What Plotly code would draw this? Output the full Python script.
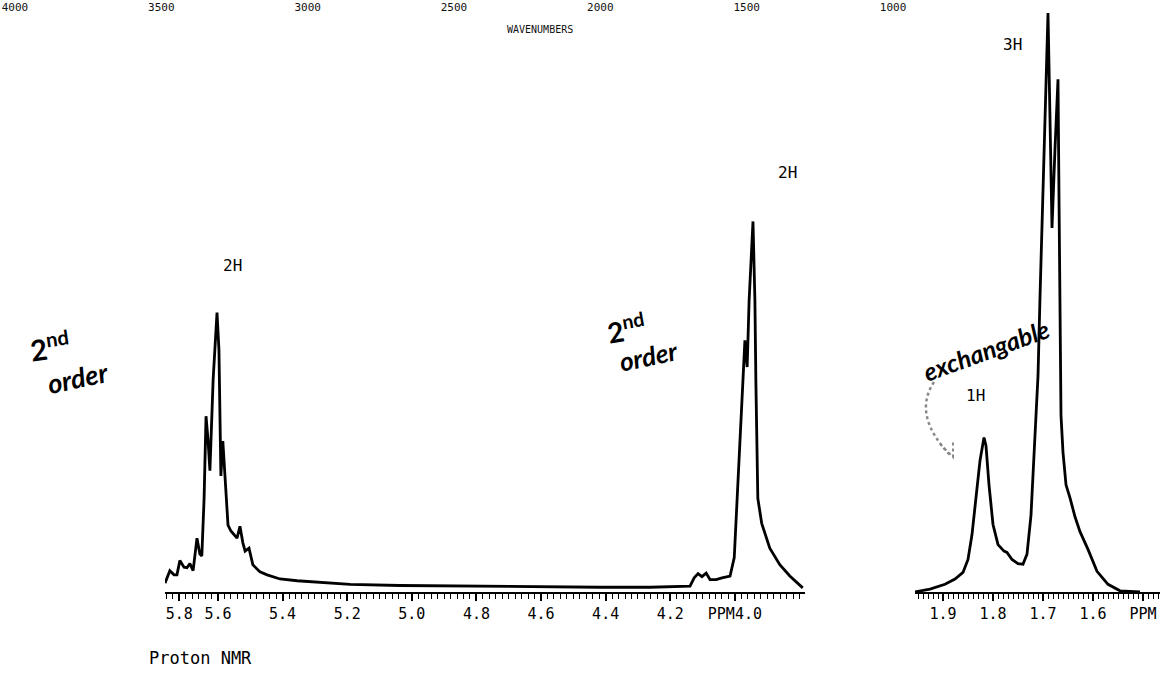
import plotly.graph_objects as go

# ---------------- data ----------------
# Left panel: 5.8 - 3.8 ppm region
left_ppm = [5.764, 5.749, 5.736, 5.727, 5.718, 5.705, 5.696, 5.687, 5.677, 5.665,
            5.656, 5.650, 5.643, 5.637, 5.631, 5.625, 5.615, 5.603, 5.597, 5.591,
            5.585, 5.575, 5.569, 5.560, 5.541, 5.532, 5.523, 5.516, 5.504, 5.492,
            5.470, 5.448, 5.408, 5.355, 5.284, 5.191, 5.037, 4.882, 4.727, 4.572,
            4.417, 4.263, 4.139, 4.126, 4.114, 4.102, 4.089, 4.077, 4.058, 4.040,
            4.015, 4.002, 3.993, 3.984, 3.975, 3.969, 3.962, 3.956, 3.944, 3.938,
            3.935, 3.932, 3.929, 3.917, 3.892, 3.861, 3.830, 3.790]
left_int = [1.5, 3.6, 2.9, 2.9, 5.3, 4.2, 4.1, 4.8, 3.6, 9.1,
            6.4, 6.1, 15.8, 29.7, 25.8, 20.5, 35.9, 47.2, 40.9, 19.6,
            25.5, 17.5, 11.3, 10.3, 9.1, 11.1, 8.3, 6.9, 7.4, 4.6,
            3.4, 2.9, 2.2, 1.9, 1.6, 1.3, 1.1, 1.0, 0.9, 0.8,
            0.8, 0.8, 1.0, 2.4, 3.1, 2.6, 3.2, 2.1, 2.1, 2.4,
            2.7, 5.8, 15.8, 24.1, 34.2, 42.5, 38.0, 49.2, 62.6, 49.2,
            35.4, 24.1, 15.8, 11.6, 7.4, 4.6, 2.7, 0.7]

# Right panel: 1.95 - 1.47 ppm region
right_ppm = [1.956, 1.926, 1.896, 1.876, 1.860, 1.850, 1.842, 1.834, 1.826, 1.818,
             1.814, 1.808, 1.800, 1.790, 1.778, 1.772, 1.762, 1.750, 1.740, 1.732,
             1.724, 1.718, 1.710, 1.706, 1.700, 1.694, 1.690, 1.686, 1.682, 1.676,
             1.670, 1.668, 1.666, 1.664, 1.660, 1.654, 1.646, 1.636, 1.626, 1.610,
             1.592, 1.570, 1.546, 1.506]
right_int = [0.0, 0.5, 1.3, 2.2, 3.3, 5.5, 9.7, 16.4, 22.2, 26.1,
             24.7, 18.1, 11.4, 8.0, 6.9, 6.7, 5.5, 4.8, 4.7, 6.4,
             13.0, 23.1, 36.5, 49.8, 66.6, 86.6, 97.8, 79.9, 61.5, 74.9,
             86.6, 66.6, 44.8, 29.8, 23.6, 18.1, 15.9, 12.7, 10.2, 7.2,
             3.5, 1.3, 0.2, 0.0]

left_tick_vals = [5.72, 5.6, 5.4, 5.2, 5.0, 4.8, 4.6, 4.4, 4.2, 4.0]
left_tick_text = ["5.8", "5.6", "5.4", "5.2", "5.0", "4.8", "4.6", "4.4", "4.2", "PPM4.0"]
right_tick_vals = [1.9, 1.8, 1.7, 1.6, 1.5]
right_tick_text = ["1.9", "1.8", "1.7", "1.6", "PPM"]
wavenumber_ticks = [4000, 3500, 3000, 2500, 2000, 1500, 1000]

W, H = 1160, 677
def px(x):
    return x / W
def py(y):
    return 1 - y / H

MONO = "DejaVu Sans Mono"
HAND = "Lato"

fig = go.Figure()
line_style = dict(color="black", width=2.8)
fig.add_trace(go.Scatter(x=left_ppm, y=left_int, xaxis="x", yaxis="y",
                         mode="lines", line=line_style, hoverinfo="skip"))
fig.add_trace(go.Scatter(x=right_ppm, y=right_int, xaxis="x2", yaxis="y2",
                         mode="lines", line=line_style, hoverinfo="skip"))
# invisible trace so the top wavenumber scale is drawn
fig.add_trace(go.Scatter(x=[wavenumber_ticks[0], wavenumber_ticks[-1]], y=[0, 0],
                         xaxis="x3", yaxis="y3", mode="markers",
                         marker=dict(opacity=0), hoverinfo="skip"))

ydom = [(H - 592) / H, 1.0]
ruler = dict(showline=True, linecolor="black", linewidth=2, showgrid=False, zeroline=False,
             ticks="outside", ticklen=7, tickwidth=2, tickcolor="black",
             tickmode="array", automargin=False,
             tickfont=dict(family=MONO, size=15, color="black"))

fig.update_layout(
    width=W, height=H,
    margin=dict(l=0, r=0, t=0, b=0, autoexpand=False),
    paper_bgcolor="white", plot_bgcolor="rgba(0,0,0,0)",
    showlegend=False,
    xaxis=dict(domain=[px(165), px(805)], range=[5.764, 3.783], anchor="y",
               tickvals=left_tick_vals, ticktext=left_tick_text,
               minor=dict(tickmode="linear", tick0=4.0, dtick=0.02, ticks="outside",
                          ticklen=5, tickwidth=1.3, tickcolor="black"),
               **ruler),
    yaxis=dict(domain=ydom, range=[0, 100], visible=False, anchor="x"),
    xaxis2=dict(domain=[px(915), 1.0], range=[1.956, 1.466], anchor="y2",
                tickvals=right_tick_vals, ticktext=right_tick_text,
                minor=dict(tickmode="linear", tick0=1.5, dtick=0.01, ticks="outside",
                           ticklen=5, tickwidth=1.3, tickcolor="black"),
                **ruler),
    yaxis2=dict(domain=ydom, range=[0, 100], visible=False, anchor="x2"),
    xaxis3=dict(domain=[0, 1], range=[4051, 88], anchor="y3", side="top",
                tickmode="array", tickvals=wavenumber_ticks, automargin=False,
                ticklabelposition="inside", showline=False, showgrid=False,
                zeroline=False, ticks="",
                tickfont=dict(family=MONO, size=11, color="#111")),
    yaxis3=dict(domain=[0.97, 1.0], range=[0, 1], visible=False, anchor="x3"),
)

def note(x, y, text, size=16, family=MONO, angle=0, color="black", **kw):
    fig.add_annotation(x=px(x), y=py(y), xref="paper", yref="paper", text=text,
                       showarrow=False, textangle=angle, xanchor="center",
                       yanchor="middle",
                       font=dict(family=family, size=size, color=color), **kw)

note(540, 30, "WAVENUMBERS", size=10, color="#111")
note(200, 658, "Proton NMR", size=17)
note(232, 265, "2H", size=16)
note(787, 172, "2H", size=16)
note(1012, 45, "3H", size=16)
note(975, 396, "1H", size=16)

# handwritten notes
note(50, 346, "<b>2<sup>nd</sup></b>", size=29, family=HAND, angle=-8)
note(78, 377, "<b><i>order</i></b>", size=27, family=HAND, angle=-12)
note(626, 328, "<b>2<sup>nd</sup></b>", size=28, family=HAND, angle=-10)
note(648, 356, "<b><i>order</i></b>", size=26, family=HAND, angle=-12)
note(986, 350, "<b><i>exchangable</i></b>", size=25, family=HAND, angle=-20)

# dotted curved arrow
arc = (f"M {px(934)},{py(382)} Q {px(912)},{py(415)} {px(950)},{py(455)}")
fig.add_shape(type="path", path=arc, xref="paper", yref="paper",
              line=dict(color="#888", width=2.5, dash="dot"))
head = (f"M {px(940)},{py(444)} L {px(953)},{py(457)} L {px(953)},{py(440)}")
fig.add_shape(type="path", path=head, xref="paper", yref="paper",
              line=dict(color="#888", width=2, dash="dot"))

fig.write_html("out.html")
